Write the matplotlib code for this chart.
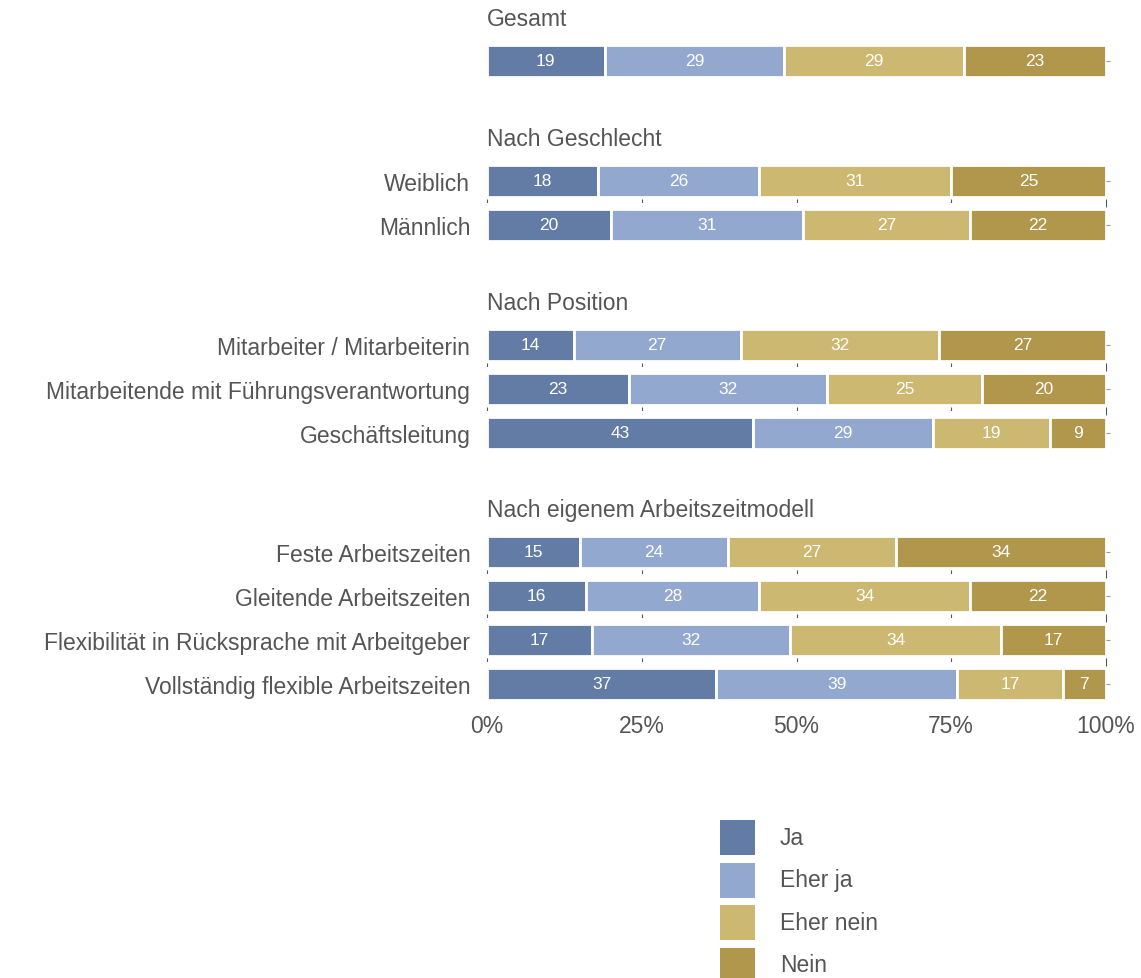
import matplotlib
matplotlib.use("Agg")
import matplotlib.pyplot as plt
from matplotlib.patches import Rectangle

# answer categories and colours
answers = ["Ja", "Eher ja", "Eher nein", "Nein"]
colors = ["#637ca5", "#93a8cf", "#cdb872", "#b0974b"]
xticks = [0, 25, 50, 75, 100]
xticklabels = ["0%", "25%", "50%", "75%", "100%"]

# shares in percent, one list per group
gesamt_labels = [""]
gesamt_vals = [[19, 29, 29, 23]]

geschlecht_labels = ["Weiblich", "Männlich"]
geschlecht_vals = [[18, 26, 31, 25],
                   [20, 31, 27, 22]]

position_labels = ["Mitarbeiter / Mitarbeiterin",
                   "Mitarbeitende mit Führungsverantwortung",
                   "Geschäftsleitung"]
position_vals = [[14, 27, 32, 27],
                 [23, 32, 25, 20],
                 [43, 29, 19, 9]]

modell_labels = ["Feste Arbeitszeiten",
                 "Gleitende Arbeitszeiten",
                 "Flexibilität in Rücksprache mit Arbeitgeber",
                 "Vollständig flexible Arbeitszeiten"]
modell_vals = [[15, 24, 27, 34],
               [16, 28, 34, 22],
               [17, 32, 34, 17],
               [37, 39, 17, 7]]

groups = [("Gesamt", gesamt_labels, gesamt_vals),
          ("Nach Geschlecht", geschlecht_labels, geschlecht_vals),
          ("Nach Position", position_labels, position_vals),
          ("Nach eigenem Arbeitszeitmodell", modell_labels, modell_vals)]

plt.rcParams['font.family'] = ['Liberation Sans', 'DejaVu Sans']
TXT = "#555555"
FS = 16.5
NARROW = ['Liberation Sans Narrow', 'Liberation Sans']

W, H = 1141, 979
fig = plt.figure(figsize=(W / 100, H / 100), dpi=100)

# layout in pixels
x_left, x_right = 487, 1106
pitch = 44
bar_h = 32
group_tops = [62, 182, 346, 553]   # centre of first bar in each group

for gi, (title, labels, vals) in enumerate(groups):
    top = group_tops[gi]
    fig.text(x_left / W, 1 - (top - 42) / H, title, ha="left", va="center",
             fontsize=FS, color=TXT)
    for ri, (lab, row) in enumerate(zip(labels, vals)):
        cy = top + ri * pitch
        ax = fig.add_axes([x_left / W, 1 - (cy + pitch / 2) / H,
                           (x_right - x_left) / W, pitch / H])
        left = 0
        for v, c in zip(row, colors):
            ax.barh(0, v, left=left, height=bar_h / pitch, color=c,
                    edgecolor="white", linewidth=2)
            ax.text(left + v / 2, 0, str(v), ha="center", va="center",
                    color="white", fontsize=12.5, family=NARROW)
            left += v
        ax.set_xlim(0, 100)
        ax.set_ylim(-0.5, 0.5)
        for s in ax.spines.values():
            s.set_visible(False)
        ax.set_yticks([0])
        ax.set_yticklabels([lab], fontsize=FS, color=TXT)
        ax.tick_params(axis="y", left=False, right=True, length=3,
                       color="#999999", width=0.8, pad=9)
        ax.set_xticks(xticks)
        last_in_group = ri == len(labels) - 1
        last_overall = last_in_group and gi == len(groups) - 1
        if last_overall:
            ax.set_xticklabels(xticklabels, fontsize=FS, color=TXT)
            ax.tick_params(axis="x", length=0, pad=6)
        elif last_in_group:
            ax.tick_params(axis="x", length=0, labelbottom=False)
        else:
            ax.tick_params(axis="x", direction="inout", length=6, width=0.8,
                           color="#555555", labelbottom=False)

# legend: colour keys stacked below the chart
key_x, key_top, key_size, key_step = 720, 821, 35, 42.5
for i, (name, c) in enumerate(zip(answers, colors)):
    y0 = key_top + i * key_step
    fig.patches.append(Rectangle((key_x / W, 1 - (y0 + key_size) / H),
                                 key_size / W, key_size / H, facecolor=c,
                                 edgecolor="none", transform=fig.transFigure))
    fig.text(780 / W, 1 - (y0 + key_size / 2) / H, name, ha="left",
             va="center", fontsize=FS, color=TXT)

fig.savefig("out.png", dpi=100)
